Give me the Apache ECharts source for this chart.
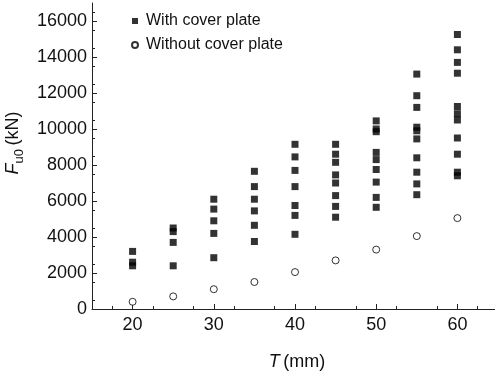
<!DOCTYPE html>
<html>
<head>
<meta charset="utf-8">
<script src="https://cdn.jsdelivr.net/npm/echarts@6/dist/echarts.min.js"></script>
<style>
html,body{margin:0;padding:0;background:#fff;}
#chart{width:495px;height:378px;}
</style>
</head>
<body>
<div id="chart"></div>
<script>
// Plate thickness T (mm)
var thickness = [20, 25, 30, 35, 40, 45, 50, 55, 60];
// F_u0 (kN) with cover plate, one list per thickness
var withCoverPlate = [
  [3200, 2600, 2400],
  [4500, 4300, 3700, 2400],
  [6100, 5550, 4900, 4200, 2850],
  [7650, 6800, 6100, 5450, 4650, 3750],
  [9150, 8450, 7700, 6800, 5750, 5200, 4150],
  [9150, 8600, 8150, 7450, 7000, 6300, 5700, 5100],
  [10450, 10000, 9850, 8700, 8300, 7750, 7050, 6200, 5650],
  [13050, 11850, 11200, 10100, 9900, 9450, 8400, 7600, 6950, 6350],
  [15250, 14400, 13700, 13100, 11250, 10850, 10500, 9500, 8600, 7600, 7400]
];
// F_u0 (kN) without cover plate
var withoutCoverPlate = [400, 700, 1100, 1500, 2050, 2700, 3300, 4050, 5050];
var yTicks = [0, 2000, 4000, 6000, 8000, 10000, 12000, 14000, 16000];
var xTicks = [20, 30, 40, 50, 60];

var withData = [];
thickness.forEach(function (t, i) {
  withCoverPlate[i].forEach(function (v) { withData.push([t, v]); });
});
var withoutData = thickness.map(function (t, i) { return [t, withoutCoverPlate[i]]; });

var font = '"Liberation Sans", Arial, sans-serif';
var chart = echarts.init(document.getElementById('chart'), null, {renderer: 'canvas'});
chart.setOption({
  animation: false,
  backgroundColor: '#fff',
  textStyle: {fontFamily: font},
  grid: {left: 92, right: -3, top: 3, bottom: 69, containLabel: false, outerBoundsMode: 'none'},
  legend: {
    orient: 'vertical',
    left: 126,
    top: 8,
    itemWidth: 6,
    itemHeight: 6,
    itemGap: 8,
    textStyle: {fontFamily: font, fontSize: 16, color: '#111', padding: [0, 0, 0, 3]},
    data: [
      {name: 'With cover plate', icon: 'rect'},
      {name: 'Without cover plate', icon: 'circle'}
    ]
  },
  xAxis: {
    type: 'value',
    min: 15, max: 65, interval: 5,
    name: '{i|T} {n|(mm)}',
    nameLocation: 'middle',
    nameGap: 44,
    nameTextStyle: {
      padding: [0, 0, 0, 4],
      rich: {
        i: {fontStyle: 'italic', fontSize: 18, fontFamily: font, color: '#111'},
        n: {fontSize: 18, fontFamily: font, color: '#111'}
      }
    },
    axisLine: {lineStyle: {color: '#222', width: 1}},
    axisTick: {inside: true, length: 5, lineStyle: {color: '#222'},
      customValues: xTicks},
    minorTick: {show: true, splitNumber: 2, length: 3, lineStyle: {color: '#222'}},
    axisLabel: {
      fontSize: 18, color: '#111', margin: 7,
      customValues: xTicks,
      formatter: function (v) { return String(v); }
    },
    splitLine: {show: false}
  },
  yAxis: {
    type: 'value',
    min: 0, max: 17000, interval: 1000,
    name: '{i|F}{s|u0} {n|(kN)}',
    nameLocation: 'middle',
    nameGap: 64,
    nameRotate: 90,
    nameTextStyle: {
      padding: [0, 0, 0, 26],
      rich: {
        i: {fontStyle: 'italic', fontSize: 18, fontFamily: font, color: '#111', lineHeight: 22, verticalAlign: 'bottom'},
        s: {fontSize: 13, fontFamily: font, color: '#111', lineHeight: 22, verticalAlign: 'bottom', padding: [0, 0, -4, 0]},
        n: {fontSize: 18, fontFamily: font, color: '#111', lineHeight: 22, verticalAlign: 'bottom'}
      }
    },
    axisLine: {show: true, lineStyle: {color: '#222', width: 1}},
    axisTick: {show: true, inside: true, length: 5, lineStyle: {color: '#222'},
      customValues: yTicks},
    minorTick: {show: true, splitNumber: 2, length: 3, lineStyle: {color: '#222'}},
    axisLabel: {
      fontSize: 18, color: '#111', margin: 5,
      customValues: yTicks,
      formatter: function (v) { return String(v); }
    },
    splitLine: {show: false}
  },
  series: [
    {
      name: 'With cover plate',
      type: 'scatter',
      symbol: 'rect',
      symbolSize: 7,
      itemStyle: {color: '#000'},
      data: withData
    },
    {
      name: 'Without cover plate',
      type: 'scatter',
      symbol: 'circle',
      symbolSize: 7,
      itemStyle: {color: '#fff', borderColor: '#000', borderWidth: 1},
      data: withoutData
    }
  ]
});
</script>
</body>
</html>
